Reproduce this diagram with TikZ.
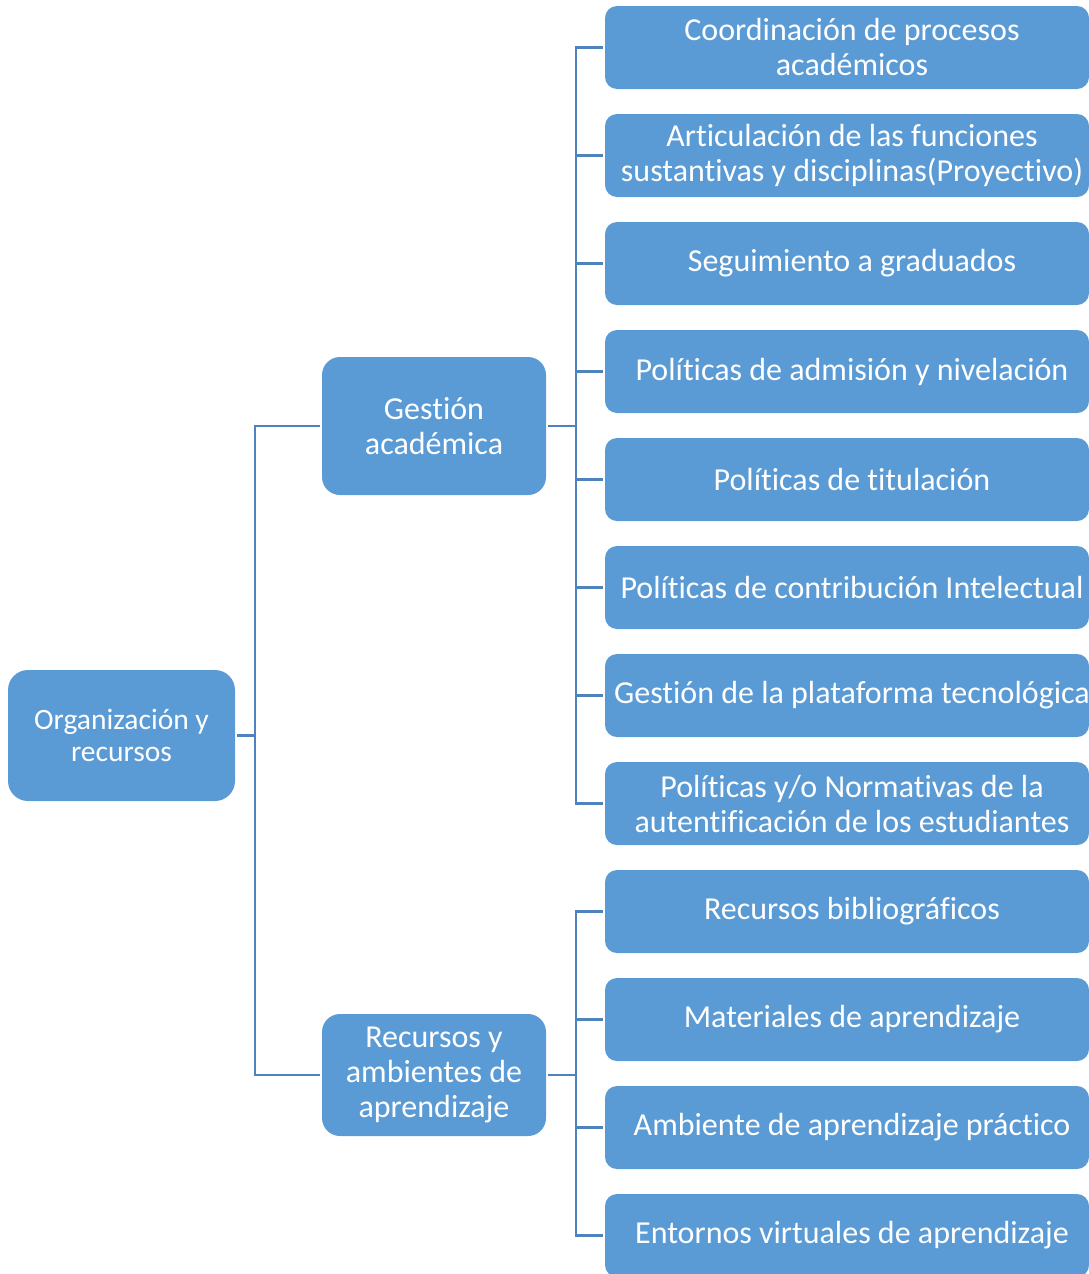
\documentclass[tikz,border=0pt]{standalone}
\usepackage{fontspec}
\setmainfont{Carlito}[Ligatures={NoCommon,NoRare}]
\definecolor{boxfill}{HTML}{5B9BD5}
\definecolor{linec}{HTML}{4F83BF}
\newcommand\tI{t\kern0pt i}
\newcommand\fI{f\kern0pt i}
\begin{document}
\begin{tikzpicture}[x=1pt,y=-1pt,
  box/.style={fill=boxfill,draw=none,text=white,align=center,inner sep=0pt,
    font=\fontsize{32}{35}\selectfont},
  lbl/.style={text=white,align=center,inner sep=0pt,font=\fontsize{32}{35}\selectfont,xshift=5pt},
  leafbox/.style={box,minimum width=484pt,minimum height=83pt,rounded corners=12pt,
    label={[lbl]center:#1}},
  midbox/.style={box,minimum width=224pt,rounded corners=18pt},
  conn/.style={draw=linec,line width=2.5pt}]
\useasboundingbox (0,0) rectangle (1089,1274);
\node[box,minimum width=227pt,minimum height=131pt,rounded corners=20pt,
  font=\fontsize{29.5}{32}\selectfont] (r) at (121.5,735.5) {Organización y\\recursos};
\node[midbox,minimum height=138pt] (g) at (434,426) {Ges\tI ón\\académica};
\node[midbox,minimum height=122pt] (ra) at (434,1075) {Recursos y\\ambientes de\\aprendizaje};
\node[leafbox={Coordinación de procesos\\académicos}] (c1) at (847,47.5) {};
\node[leafbox={Ar\tI culación de las funciones\\sustan\tI vas y disciplinas(Proyec\tI vo)}] (c2) at (847,155.5) {};
\node[leafbox={Seguimiento a graduados}] (c3) at (847,263.5) {};
\node[leafbox={Polí\tI cas de admisión y nivelación}] (c4) at (847,371.5) {};
\node[leafbox={Polí\tI cas de \tI tulación}] (c5) at (847,479.5) {};
\node[leafbox={Polí\tI cas de contribución Intelectual}] (c6) at (847,587.5) {};
\node[leafbox={Ges\tI ón de la plataforma tecnológica}] (c7) at (847,695.5) {};
\node[leafbox={Polí\tI cas y/o Norma\tI vas de la\\auten\tI\fI cación de los estudiantes}] (c8) at (847,803.5) {};
\node[leafbox={Recursos bibliográ\fI cos}] (d1) at (847,911.5) {};
\node[leafbox={Materiales de aprendizaje}] (d2) at (847,1019.5) {};
\node[leafbox={Ambiente de aprendizaje prác\tI co}] (d3) at (847,1127.5) {};
\node[leafbox={Entornos virtuales de aprendizaje}] (d4) at (847,1235.5) {};
\foreach \t in {g,ra}{\draw[conn] ([xshift=2pt]r.east) -- ++(18,0) |- ([xshift=-2pt]\t.west);}
\foreach \t in {c1,c2,c3,c4,c5,c6,c7,c8}{\draw[conn] ([xshift=2pt]g.east) -- ++(28,0) |- ([xshift=-2pt]\t.west);}
\foreach \t in {d1,d2,d3,d4}{\draw[conn] ([xshift=2pt]ra.east) -- ++(28,0) |- ([xshift=-2pt]\t.west);}
\end{tikzpicture}
\end{document}
